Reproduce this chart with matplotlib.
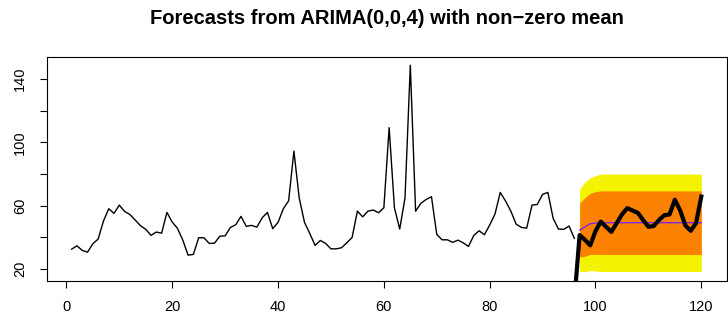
import numpy as np
import matplotlib.pyplot as plt

plt.rcParams['font.family'] = ['Liberation Sans', 'DejaVu Sans']

# observed series, t = 1..96
series = [32.6, 34.7, 31.8, 30.7, 36.0, 39.0, 50.3, 58.1, 55.2, 60.4,
          56.4, 54.5, 51.0, 47.4, 45.1, 41.3, 43.4, 42.7, 55.8, 49.7,
          45.7, 38.3, 28.8, 29.3, 39.8, 39.8, 36.2, 36.4, 40.8, 41.0,
          46.3, 48.0, 53.3, 47.0, 47.6, 46.5, 52.4, 55.8, 45.5, 49.5,
          58.1, 63.1, 94.5, 65.0, 49.5, 42.5, 35.0, 38.1, 36.2, 32.8,
          32.8, 33.5, 36.6, 40.0, 56.6, 53.0, 56.6, 57.3, 55.6, 58.7,
          109.3, 58.7, 45.3, 65.0, 148.7, 56.6, 61.5, 64.0, 65.7, 41.9,
          38.5, 38.5, 36.9, 38.3, 36.6, 34.3, 41.3, 44.2, 41.7, 47.8,
          54.7, 68.4, 63.0, 56.6, 48.4, 46.3, 45.9, 60.4, 60.8, 67.2,
          68.4, 52.0, 45.3, 45.1, 47.2, 39.4]

# forecast horizon t = 97..120
fc_mean = [44.6, 46.6, 48.6, 49.1] + [49.3] * 20
lo80 = [27.6, 28.1, 29.3, 29.3] + [29.2] * 20
hi80 = [61.6, 65.1, 67.9, 68.9] + [69.4] * 20
lo95 = [18.6, 18.3, 19.1, 18.8] + [18.5] * 20
hi95 = [70.6, 74.9, 77.6, 79.0] + [80.0] * 20

# held-out values, t = 96..120
test = [0.0, 41.5, 38.5, 35.0, 44.0, 50.0, 46.7, 43.5, 49.0, 54.5,
        58.5, 57.0, 55.5, 51.0, 46.7, 47.2, 51.0, 54.0, 54.5, 63.8,
        57.0, 47.5, 44.2, 49.0, 65.8]

t_obs = np.arange(1, len(series) + 1)
t_fc = np.arange(len(series) + 1, len(series) + 1 + len(fc_mean))
t_test = np.arange(len(series), len(series) + len(test))

fig = plt.figure(figsize=(7.28, 3.23), dpi=100)
ax = fig.add_axes([46.5 / 728, 1 - 281 / 323, 680 / 728, 224 / 323])

ax.fill_between(t_fc, lo95, hi95, color='#F4F400', lw=0)
ax.fill_between(t_fc, lo80, hi80, color='#FA8200', lw=0)
ax.plot(t_fc, fc_mean, color='#7020FF', lw=0.9)
ax.plot(t_obs, series, color='black', lw=1.0)
ax.plot(t_test, test, color='black', lw=3.0)

ax.set_xlim(-3.76, 124.76)
ax.set_ylim(12.5, 153.9)

ax.set_xticks([0, 20, 40, 60, 80, 100, 120])
yt = [20, 40, 60, 80, 100, 120, 140]
ax.set_yticks(yt)
ax.set_yticklabels([str(v) if v in (20, 60, 100, 140) else '' for v in yt],
                   rotation=90, va='center')
ax.tick_params(axis='both', direction='out', length=5, width=0.8,
               labelsize=10.5, color='black')
ax.tick_params(axis='x', pad=9)
ax.tick_params(axis='y', pad=9)
for s in ax.spines.values():
    s.set_linewidth(0.8)

fig.text((46.5 + 340) / 728, 1 - 19 / 323,
         'Forecasts from ARIMA(0,0,4) with non\u2212zero mean',
         ha='center', va='center', fontsize=14.5, fontweight='bold')

fig.savefig('out.png', dpi=100)
